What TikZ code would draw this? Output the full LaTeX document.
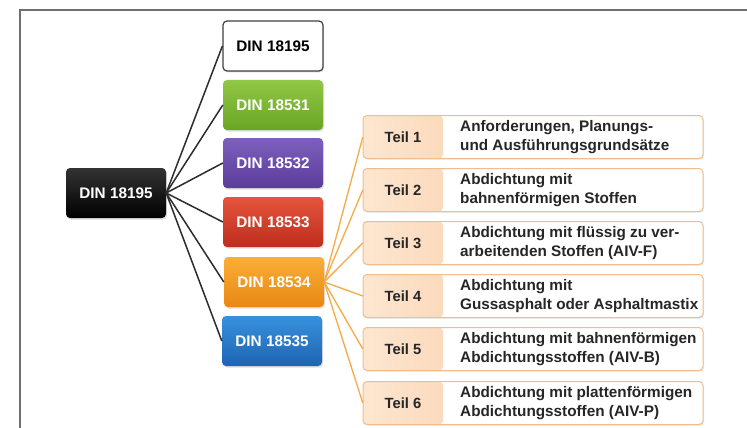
\documentclass[tikz,border=0pt]{standalone}
\usepackage{fontspec}
\setmainfont{Liberation Sans}
\usetikzlibrary{shadows}
\definecolor{frameC}{RGB}{110,110,110}
\definecolor{lineC}{RGB}{45,45,45}
\definecolor{orangeLine}{RGB}{245,170,70}
\definecolor{gTop}{RGB}{145,200,70}\definecolor{gBot}{RGB}{105,165,35}
\definecolor{pTop}{RGB}{125,95,190}\definecolor{pBot}{RGB}{90,60,155}
\definecolor{rTop}{RGB}{228,85,60}\definecolor{rBot}{RGB}{190,45,30}
\definecolor{oTop}{RGB}{250,175,55}\definecolor{oBot}{RGB}{232,135,20}
\definecolor{bTop}{RGB}{55,145,220}\definecolor{bBot}{RGB}{30,100,180}
\definecolor{peachL}{RGB}{253,230,208}\definecolor{peachR}{RGB}{245,180,128}
\definecolor{peachBorder}{RGB}{240,190,140}
\tikzset{
  din/.style={rounded corners=4pt, minimum width=100pt, minimum height=50pt,
    font=\fontsize{15.3}{18}\selectfont\bfseries, text=white, inner sep=0pt,
    drop shadow={shadow xshift=1pt, shadow yshift=-1.5pt, opacity=0.25}},
  conn/.style={draw=lineC, line width=1.5pt},
  oconn/.style={draw=orangeLine, line width=1.3pt},
  descbox/.style={rounded corners=4pt, draw=peachBorder, line width=1pt, fill=white,
    minimum width=340pt, minimum height=43pt, inner sep=0pt,
    drop shadow={shadow xshift=1pt, shadow yshift=-1.2pt, opacity=0.18},
    path picture={\shade[left color=peachL, right color=peachR]
      (path picture bounding box.north west) rectangle
      ([xshift=80pt]path picture bounding box.south west);}},
  teil/.style={minimum width=80pt, minimum height=43pt, inner sep=0pt,
    font=\fontsize{14.8}{17}\selectfont\bfseries, text=black!85},
  desc/.style={anchor=west, inner sep=0pt, align=left,
    font=\fontsize{15.3}{18.5}\selectfont\bfseries, text=black!85}
}
\begin{document}
\begin{tikzpicture}[x=1pt,y=-1pt]
\useasboundingbox (0,0) rectangle (747,428);
\fill[white] (0,0) rectangle (747,428);
\draw[frameC, line width=1.3pt] (20,428) -- (20,10) -- (747,10);

% main node
\node[din, top color=black!80, bottom color=black] (main) at (116,193) {DIN 18195};

% DIN boxes
\node[din, fill=white, draw=black!75, line width=1.2pt, text=black] (d0) at (273,46) {DIN 18195};
\node[din, top color=gTop, bottom color=gBot] (d1) at (273,105) {DIN 18531};
\node[din, top color=pTop, bottom color=pBot] (d2) at (273,163) {DIN 18532};
\node[din, top color=rTop, bottom color=rBot] (d3) at (273,222) {DIN 18533};
\node[din, top color=oTop, bottom color=oBot] (d4) at (274,282) {DIN 18534};
\node[din, top color=bTop, bottom color=bBot] (d5) at (272,341) {DIN 18535};

\foreach \n in {d0,d1,d2,d3,d4,d5}{
  \draw[conn] (main.east) -- (\n.west);
}

% Teil boxes
\foreach \i/\y/\la/\lb in {
  1/137/{Anforderungen, Planungs-}/{und Ausführungsgrundsätze},
  2/190/{Abdichtung mit}/{bahnenförmigen Stoffen},
  3/243/{Abdichtung mit flüssig zu ver-}/{arbeitenden Stoffen (AIV-F)},
  4/296/{Abdichtung mit}/{Gussasphalt oder Asphaltmastix},
  5/349/{Abdichtung mit bahnenförmigen}/{Abdichtungsstoffen (AIV-B)},
  6/403/{Abdichtung mit plattenförmigen}/{Abdichtungsstoffen (AIV-P)}}{
  \node[descbox] (b\i) at (533,\y) {};
  \node[teil] (t\i) at (403,\y) {Teil \i};
  \node[desc] (x\i) at (460,\y) {\la\\\lb};
  \draw[oconn] (d4.east) -- (t\i.west);
}
\end{tikzpicture}
\end{document}
